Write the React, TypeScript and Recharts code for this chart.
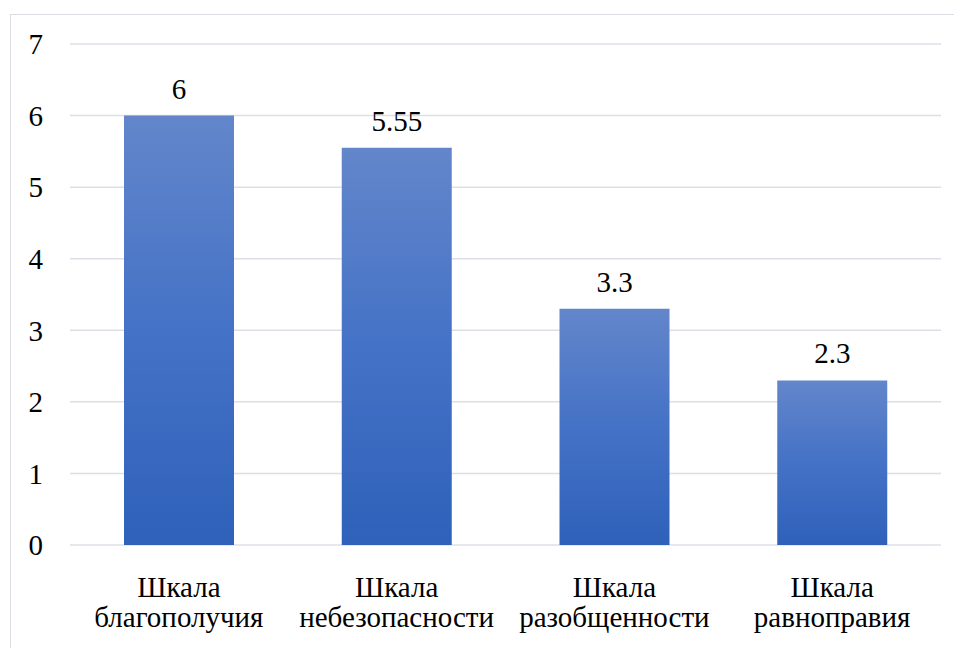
import { BarChart, Bar, XAxis, YAxis, CartesianGrid, LabelList } from 'recharts'

// Scale names and mean scores
const categories = [
  'Шкала благополучия',
  'Шкала небезопасности',
  'Шкала разобщенности',
  'Шкала равноправия',
]
const values = [6, 5.55, 3.3, 2.3]
const yTicks = [0, 1, 2, 3, 4, 5, 6, 7]

const data = categories.map((name, i) => ({ name, value: values[i] }))

const FONT = "'Times New Roman', Times, 'Liberation Serif', 'DejaVu Serif', 'Noto Serif', serif"
const FONT_SIZE = 29

// two-line category label: "Шкала" on top, the rest below
const CategoryTick = (props: any) => {
  const { x, y, payload } = props
  const text: string = payload.value
  const cut = text.indexOf(' ')
  const first = text.slice(0, cut)
  const second = text.slice(cut + 1)
  return (
    <text x={x} y={y} textAnchor="middle" fill="#000" style={{ fontFamily: FONT, fontSize: FONT_SIZE }}>
      <tspan x={x} y={y + 52}>{first}</tspan>
      <tspan x={x} y={y + 82}>{second}</tspan>
    </text>
  )
}

export default function App() {
  return (
    <div
      style={{
        position: 'absolute',
        left: 0,
        top: 0,
        width: 954,
        height: 648,
        background: '#fff',
        overflow: 'hidden',
        fontFamily: FONT,
      }}
    >
      <div
        style={{
          position: 'absolute',
          left: 10,
          top: 14,
          width: 980,
          height: 700,
          border: '1px solid #DADEE4',
        }}
      />
      <div style={{ position: 'absolute', left: 0, top: 0 }}>
        <BarChart
          width={954}
          height={648}
          data={data}
          margin={{ top: 44, right: 13, bottom: 0, left: 0 }}
          style={{ fontFamily: FONT }}
        >
          <defs>
            <linearGradient id="barFill" x1="0" y1="0" x2="0" y2="1">
              <stop offset="0%" stopColor="#6386CB" />
              <stop offset="50%" stopColor="#4472C6" />
              <stop offset="100%" stopColor="#2F61BA" />
            </linearGradient>
          </defs>
          <CartesianGrid vertical={false} stroke="#DCE0E6" strokeWidth={1.5} />
          <XAxis
            dataKey="name"
            height={103}
            axisLine={false}
            tickLine={false}
            tickSize={0}
            tickMargin={0}
            interval={0}
            tick={<CategoryTick />}
          />
          <YAxis
            width={70}
            domain={[0, 7]}
            ticks={yTicks}
            axisLine={false}
            tickLine={false}
            tickSize={6}
            tickMargin={21}
            tick={{ fill: '#000', fontSize: FONT_SIZE, style: { fontFamily: FONT } }}
          />
          <Bar dataKey="value" fill="url(#barFill)" barSize={110} isAnimationActive={false}>
            <LabelList
              dataKey="value"
              position="top"
              offset={17}
              fill="#000"
              fontSize={FONT_SIZE}
              style={{ fontFamily: FONT }}
            />
          </Bar>
        </BarChart>
      </div>
    </div>
  )
}
